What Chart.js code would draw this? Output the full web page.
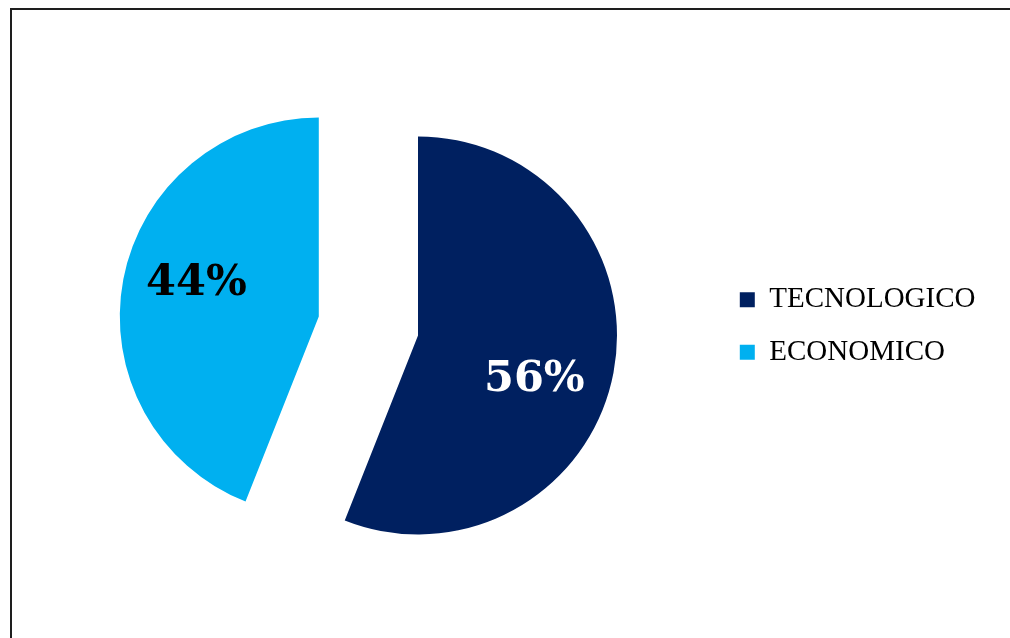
<!DOCTYPE html>
<html>
<head>
<meta charset="utf-8">
<script src="https://cdn.jsdelivr.net/npm/chart.js@4.4.0/dist/chart.umd.min.js"></script>
<style>
  html, body { margin: 0; padding: 0; background: #fff; overflow: hidden; }
  #frame { position: absolute; left: 10px; top: 8px; width: 1100px; height: 700px;
           border-top: 2px solid #1e1e1e; border-left: 2px solid #1e1e1e; }
  #wrap { position: absolute; left: 0; top: 0; width: 1010px; height: 638px; }
</style>
</head>
<body>
<div id="frame"></div>
<div id="wrap"><canvas id="pieChart" width="1010" height="638"></canvas></div>
<script>
/* ---------- DATA ---------- */
const categories = ["TECNOLOGICO", "ECONOMICO"];
const shares = [56, 44];
const sliceColors = ["#002060", "#00B0F0"];
const labelColors = ["#FFFFFF", "#000000"];

// how far each slice is pulled out of the pie (px)
const EXPLODE = 50.5;

/* ---------- EXPLODED SLICES ---------- */
const baseArcDraw = Chart.ArcElement.prototype.draw;
Chart.ArcElement.prototype.draw = function (ctx) {
  const mid = (this.startAngle + this.endAngle) / 2;
  ctx.save();
  ctx.translate(Math.cos(mid) * EXPLODE, Math.sin(mid) * EXPLODE);
  baseArcDraw.call(this, ctx);
  ctx.restore();
};

/* ---------- PERCENT LABELS ---------- */
const pctLabels = {
  id: "pctLabels",
  afterDatasetsDraw(chart) {
    const meta = chart.getDatasetMeta(0);
    const total = shares.reduce((a, b) => a + b, 0);
    const ctx = chart.ctx;
    ctx.save();
    ctx.font = "bold 43px 'DejaVu Serif'";
    ctx.textAlign = "center";
    ctx.textBaseline = "middle";
    meta.data.forEach((arc, i) => {
      const mid = (arc.startAngle + arc.endAngle) / 2;
      const a = mid + 7 * Math.PI / 180;
      const r = arc.outerRadius * 0.63;
      const x = arc.x + Math.cos(mid) * EXPLODE + Math.cos(a) * r - 3;
      const y = arc.y + Math.sin(mid) * EXPLODE + Math.sin(a) * r + 6;
      ctx.fillStyle = labelColors[i];
      ctx.fillText(Math.round(shares[i] / total * 100) + "%", x, y);
    });
    ctx.restore();
  }
};

/* ---------- CHART ---------- */
new Chart(document.getElementById("pieChart"), {
  type: "pie",
  data: {
    labels: categories,
    datasets: [{
      data: shares,
      backgroundColor: sliceColors,
      borderWidth: 0,
      radius: 199,
      clip: false
    }]
  },
  options: {
    responsive: false,
    animation: false,
    layout: { padding: { left: 20.5, right: 24.5, top: 14, bottom: 0 } },
    plugins: {
      tooltip: { enabled: false },
      legend: {
        position: "right",
        align: "center",
        labels: {
          boxWidth: 15,
          boxHeight: 15,
          padding: 23.5,
          color: "#000",
          font: { family: "'Liberation Serif', serif", size: 29 }
        }
      }
    }
  },
  plugins: [pctLabels]
});
</script>
</body>
</html>
